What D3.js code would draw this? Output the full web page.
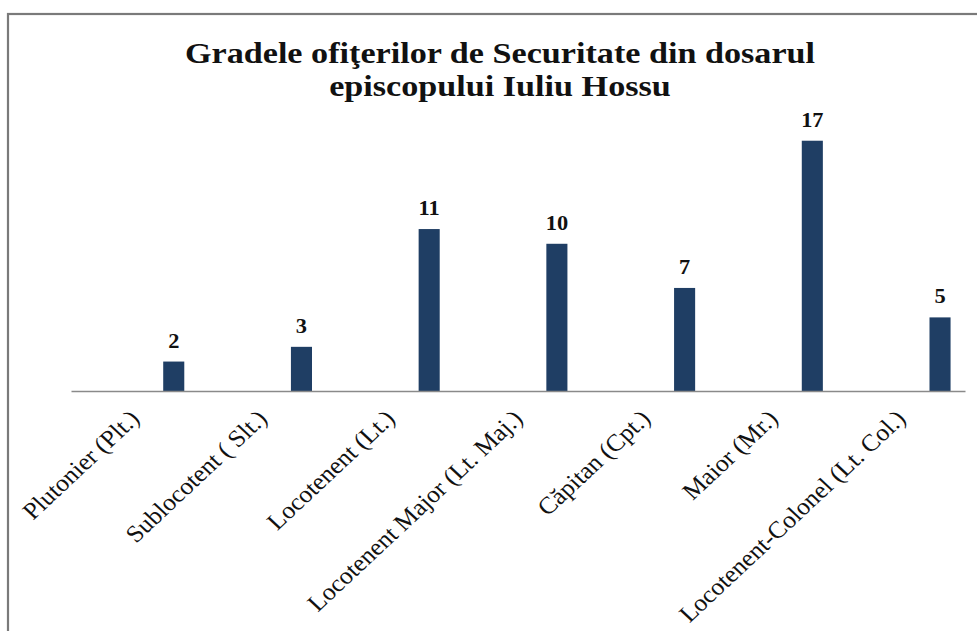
<!DOCTYPE html>
<html>
<head>
<meta charset="utf-8">
<script src="https://cdn.jsdelivr.net/npm/d3@7/dist/d3.min.js"></script>
<style>
  html, body { margin: 0; padding: 0; background: #fff; }
  svg { display: block; }
</style>
</head>
<body>
<svg id="chart" width="977" height="631"></svg>
<script>
const categories = [
  "Plutonier (Plt.)",
  "Sublocotent ( Slt.)",
  "Locotenent (Lt.)",
  "Locotenent Major (Lt. Maj.)",
  "Căpitan (Cpt.)",
  "Maior (Mr.)",
  "Locotenent-Colonel (Lt. Col.)"
];
const values = [2, 3, 11, 10, 7, 17, 5];
const titleLines = ["Gradele ofiţerilor de Securitate din dosarul", "episcopului Iuliu Hossu"];

const W = 977, H = 631;
const svg = d3.select("#chart");
const serif = "'Liberation Serif', 'Times New Roman', 'DejaVu Serif', serif";

// chart border
svg.append("rect")
  .attr("x", 8).attr("y", 14)
  .attr("width", W + 10).attr("height", H + 10)
  .attr("fill", "#fff")
  .attr("stroke", "#7a7a7a").attr("stroke-width", 2.2);

// title
const title = svg.append("g");
titleLines.forEach((t, i) => {
  title.append("text")
    .attr("transform", `translate(500, ${63 + i * 33}) scale(1.12,1)`)
    .attr("text-anchor", "middle")
    .attr("font-family", serif)
    .attr("font-weight", "bold")
    .attr("font-size", 30.5)
    .attr("fill", "#111")
    .text(t);
});

const x = d3.scaleBand().domain(categories).range([71, 965]).padding(0);
const y = d3.scaleLinear().domain([0, 18]).range([391, 126]);
const step = x.step();
const barOffset = step * 0.722;
const barW = step * 0.165;

// bars
svg.append("g").selectAll("rect")
  .data(values)
  .join("rect")
  .attr("x", (d, i) => x(categories[i]) + barOffset)
  .attr("y", d => y(d))
  .attr("width", barW)
  .attr("height", d => y(0) - y(d))
  .attr("fill", "#1f3e64");

// data labels
svg.append("g").selectAll("text")
  .data(values)
  .join("text")
  .attr("transform", (d, i) => `translate(${x(categories[i]) + barOffset + barW / 2}, ${y(d) - 14}) scale(1.12,1)`)
  .attr("text-anchor", "middle")
  .attr("font-family", serif)
  .attr("font-weight", "bold")
  .attr("font-size", 20)
  .attr("fill", "#111")
  .text(d => d);

// x axis
const xAxis = d3.axisBottom(x).tickSize(0).tickPadding(0);
const gx = svg.append("g").attr("transform", `translate(0, ${y(0)})`).call(xAxis);
gx.select(".domain").attr("stroke", "#8a8a8a").attr("stroke-width", 1.6);
gx.selectAll(".tick text")
  .attr("font-family", serif)
  .attr("font-size", 24)
  .attr("fill", "#111")
  .attr("text-anchor", "end")
  .attr("dy", 0).attr("y", 0)
  .attr("transform", "translate(6, 29) scale(1.07,1) rotate(-45)");
</script>
</body>
</html>
